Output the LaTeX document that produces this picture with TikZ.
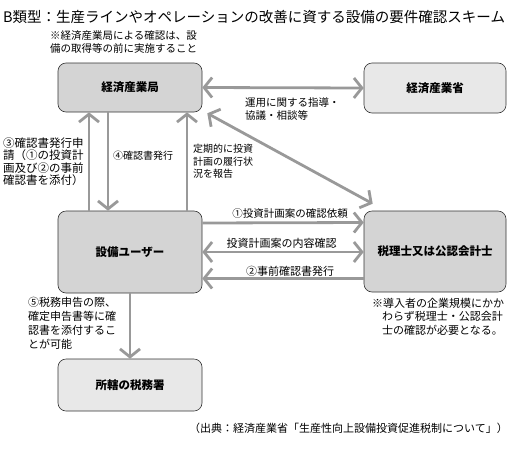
\documentclass[tikz,border=0pt]{standalone}
\usepackage{fontspec}
\setmainfont{Noto Sans CJK JP}
\usetikzlibrary{arrows.meta}
\tikzset{
  chev/.tip={Straight Barb[length=8pt,width=20pt]},
  office/.style={draw=black!80,fill=black!17,rounded corners=8pt,line width=0.6pt,
    minimum width=144pt,font=\bfseries\fontsize{11.5}{14}\selectfont},
  lightoffice/.style={office,fill=black!9},
  flow/.style={draw=black!40,line width=2.8pt},
  txt/.style={inner sep=0pt,align=left,font=\fontsize{#1}{13}\selectfont},
  txt/.default=10.5
}
\begin{document}
\begin{tikzpicture}[x=1pt,y=-1pt]
\useasboundingbox (0,0) rectangle (510,450);
\node[txt=14.5,anchor=west] (title) at (3,17) {B類型：生産ラインやオペレーションの改善に資する設備の要件確認スキーム};
\node[txt,anchor=west] (note1) at (50,42.5) {※経済産業局による確認は、設\\備の取得等の前に実施すること};
\node[office,minimum height=49pt] (kyoku) at (130,87.5) {経済産業局};
\node[lightoffice,minimum width=142pt,minimum height=50pt] (sho) at (435,88) {経済産業省};
\node[office,minimum height=82pt] (user) at (130,252) {設備ユーザー};
\node[office,minimum width=142pt,minimum height=81pt] (zeiri) at (435,251.5) {税理士又は公認会計士};
\node[lightoffice,minimum height=52pt] (zeimu) at (130,385) {所轄の税務署};
\draw[flow,chev-chev] (kyoku.east) -- (sho.west);
\draw[flow,chev-chev] ([shift={(5pt,-1pt)}]kyoku.south east) -- ([shift={(9pt,7pt)}]zeiri.north west);
\draw[flow,-chev] ([xshift=-41pt]user.north) -- ([xshift=-41pt]kyoku.south);
\draw[flow,-chev] ([xshift=-22pt]kyoku.south) -- ([xshift=-22pt]user.north);
\draw[flow,-chev] ([xshift=57pt]user.north) -- ([xshift=57pt]kyoku.south);
\draw[flow,-chev] ([yshift=29pt]user.east) -- ([yshift=29pt]zeiri.west);
\draw[flow,chev-chev] (user.east) -- (user.east -| zeiri.west);
\draw[flow,-chev] ([yshift=-27pt]zeiri.west) -- ([yshift=-27pt]zeiri.west -| user.east);
\draw[flow,-chev] (user.south) -- (zeimu.north);
\node[txt,anchor=west] (unyo) at (245,109.5) {運用に関する指導・\\協議・相談等};
\node[txt=11,anchor=west,font=\fontsize{11.5}{12.5}\selectfont] (shinsei) at (3,161.5) {③確認書発行申\\請（①の投資計\\画及び②の事前\\確認書を添付）};
\node[txt=10,anchor=west] (hakko) at (113,155.5) {④確認書発行};
\node[txt=10,anchor=west,font=\fontsize{10}{12.5}\selectfont] (hokoku) at (193,161.5) {定期的に投資\\計画の履行状\\況を報告};
\node[txt] (irai) at (290,214) {①投資計画案の確認依頼};
\node[txt=11] (naiyo) at (281.5,243) {投資計画案の内容確認};
\node[txt=11] (jizen) at (290,271) {②事前確認書発行};
\node[txt=11,anchor=north west,font=\fontsize{11}{13.5}\selectfont] (note2) at (372,298) {※導入者の企業規模にかか\\\hspace*{10pt}わらず税理士・公認会計\\\hspace*{10pt}士の確認が必要となる。};
\node[txt=11,anchor=west,font=\fontsize{11}{14}\selectfont] (shinkoku) at (28,323) {⑤税務申告の際、\\確定申告書等に確\\認書を添付するこ\\とが可能};
\node[txt=11,anchor=east] (source) at (508,428) {（出典：経済産業省「生産性向上設備投資促進税制について」）};
\end{tikzpicture}
\end{document}
